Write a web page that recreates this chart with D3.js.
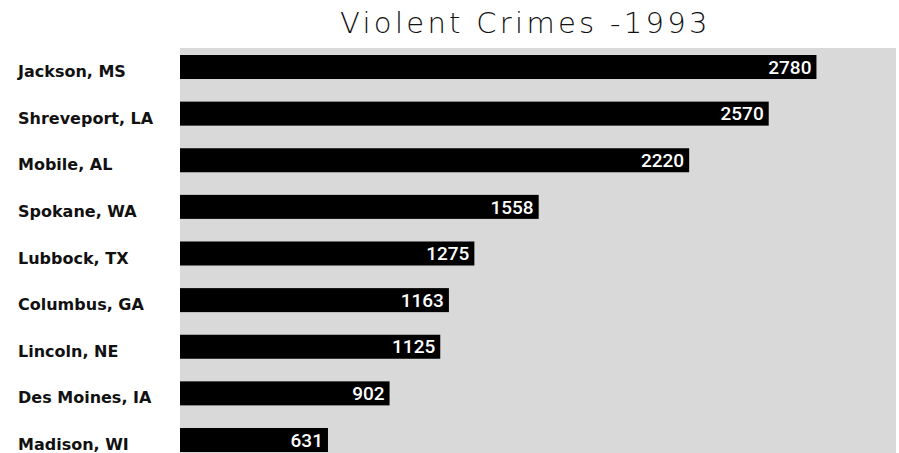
<!DOCTYPE html>
<html>
<head>
  <meta charset="UTF-8">
  <title>Violent Crimes - 1993</title>
  <style>
    body { margin: 0; background: white; }
    svg { display: block; }
    .cat { font-family: 'DejaVu Sans', sans-serif; font-weight: bold; font-size: 16px; fill: #111; }
    .val { font-family: Roboto, sans-serif; font-weight: 500; font-size: 19px; fill: white; }
    .title { font-family: 'DejaVu Sans', sans-serif; font-weight: 200; font-size: 29px; fill: #111; letter-spacing: 3.3px; }
  </style>
</head>
<body>
  <svg id="chart"></svg>
  <script src="https://d3js.org/d3.v7.min.js"></script>
  <script>
    let width = 899, height = 453;

    // data
    let cities = ["Jackson, MS", "Shreveport, LA", "Mobile, AL", "Spokane, WA", "Lubbock, TX",
      "Columbus, GA", "Lincoln, NE", "Des Moines, IA", "Madison, WI"];
    let crimes = [2780, 2570, 2220, 1558, 1275, 1163, 1125, 902, 631];
    let titleText = "Violent Crimes -1993";

    let svg = d3.select("#chart")
      .attr("width", width)
      .attr("height", height);

    // the plot starts a little below zero, like the original
    let x = d3.scaleLinear().domain([-20, 3130]).range([180, 896]);
    let y = d3.scaleBand().domain(cities).range([55, 452]).paddingInner(0.485).paddingOuter(0);

    // plot background
    svg.append("rect")
      .attr("x", x.range()[0]).attr("y", 48)
      .attr("width", x.range()[1] - x.range()[0]).attr("height", height - 48)
      .attr("fill", "#d9d9d9");

    svg.append("text")
      .attr("class", "title")
      .attr("x", 340).attr("y", 33)
      .text(titleText);

    let rows = svg.append("g").selectAll("g")
      .data(cities)
      .enter().append("g");

    rows.append("rect")
      .attr("x", x.range()[0])
      .attr("y", d => y(d))
      .attr("width", (d, i) => x(crimes[i]) - x.range()[0])
      .attr("height", y.bandwidth())
      .attr("fill", "black");

    rows.append("text")
      .attr("class", "val")
      .attr("x", (d, i) => x(crimes[i]) - 5)
      .attr("y", d => y(d) + y.bandwidth() / 2)
      .attr("dy", "0.355em")
      .attr("text-anchor", "end")
      .text((d, i) => crimes[i]);

    rows.append("text")
      .attr("class", "cat")
      .attr("x", 18)
      .attr("y", d => y(d) + y.bandwidth() - 2)
      .text(d => d);
  </script>
</body>
</html>
